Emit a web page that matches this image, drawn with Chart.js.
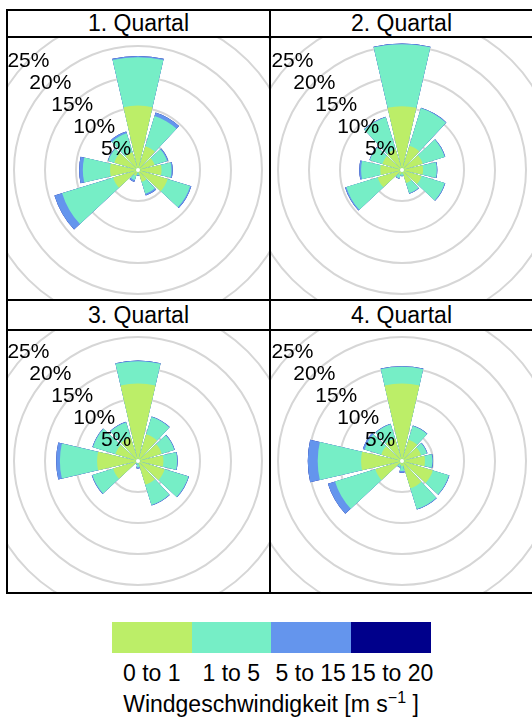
<!DOCTYPE html>
<html>
<head>
<meta charset="utf-8">
<script src="https://cdn.jsdelivr.net/npm/chart.js@4.4.1/dist/chart.umd.min.js"></script>
<style>
  body { margin: 0; background: #fff; font-family: "Liberation Sans", Arial, sans-serif; }
  #page { position: relative; width: 532px; height: 722px; overflow: hidden; }
  .clip { position: absolute; overflow: hidden; }
  .clip canvas { position: absolute; }
  .title { position: absolute; text-align: center; font-size: 23px; line-height: 26px; color: #000; }
  .line { position: absolute; background: #000; z-index: 5; }
  .swatch { position: absolute; top: 622px; height: 31px; }
  .lab { position: absolute; top: 661px; width: 80px; text-align: center; font-size: 23px; line-height: 24px; white-space: nowrap; }
  #legtitle { position: absolute; top: 692px; left: 71px; width: 400px; text-align: center; font-size: 23px; line-height: 24px; }
  #legtitle sup { font-size: 16px; line-height: 0; }
</style>
</head>
<body>
<div id="page"></div>
<script>
// Richtungen (Sektormitte, Grad) und Windgeschwindigkeitsklassen
const directions = [0, 30, 60, 90, 120, 150, 180, 210, 240, 270, 300, 330];
const speedLabels = ['0 to 1', '1 to 5', '5 to 15', '15 to 20'];
const speedColors = ['#BCEE68', '#76EEC6', '#6495ED', '#00008B'];
const quarterTitles = ['1. Quartal', '2. Quartal', '3. Quartal', '4. Quartal'];
const ringTicks = [5, 10, 15, 20, 25];
const ringTickLabels = ['5%', '10%', '15%', '20%', '25%'];

// Häufigkeiten in % je Richtung
const q1Speed0to1   = [10.4, 4.0, 2.8, 3.8, 5.0, 2.0, 0.5, 1.0, 4.2, 4.5, 4.0, 3.0];
const q1Speed1to5   = [7.8, 5.1, 2.1, 1.6, 3.8, 2.0, 0.3, 0.7, 8.6, 4.4, 1.0, 3.2];
const q1Speed5to15  = [0.2, 0.6, 0.2, 0.2, 0.2, 0.3, 0.1, 0.3, 1.3, 0.6, 0.1, 0.3];
const q1Speed15to20 = [0, 0, 0, 0, 0, 0, 0, 0, 0, 0, 0, 0];

const q2Speed0to1   = [10.3, 4.1, 3.5, 3.4, 3.3, 2.2, 0.6, 0.8, 4.1, 3.5, 3.3, 3.5];
const q2Speed1to5   = [10.0, 6.3, 3.7, 2.2, 3.9, 1.7, 0.3, 0.6, 5.3, 3.1, 2.1, 5.4];
const q2Speed5to15  = [0.1, 0.1, 0.1, 0.1, 0.1, 0.1, 0.1, 0.1, 0.2, 0.3, 0.1, 0.1];
const q2Speed15to20 = [0, 0, 0, 0, 0, 0, 0, 0, 0, 0, 0, 0];

const q3Speed0to1   = [12.5, 4.5, 4.0, 4.1, 4.5, 4.0, 0.4, 0.3, 4.2, 6.6, 3.8, 4.0];
const q3Speed1to5   = [3.6, 2.9, 2.1, 2.2, 4.0, 3.4, 0.6, 0.2, 3.5, 6.0, 3.8, 2.5];
const q3Speed5to15  = [0.1, 0.1, 0.1, 0.1, 0.1, 0.1, 0.2, 0.1, 0.1, 0.6, 0.1, 0.1];
const q3Speed15to20 = [0, 0, 0, 0, 0, 0, 0, 0, 0, 0, 0, 0];

const q4Speed0to1   = [12.5, 3.6, 3.2, 3.7, 5.2, 4.6, 0.8, 0.6, 4.5, 6.6, 3.5, 3.8];
const q4Speed1to5   = [2.7, 2.3, 1.0, 1.2, 2.7, 3.5, 0.8, 0.4, 6.8, 7.0, 2.8, 2.4];
const q4Speed5to15  = [0.1, 0.1, 0.1, 0.1, 0.1, 0.1, 0.3, 0.1, 1.2, 1.6, 0.3, 0.1];
const q4Speed15to20 = [0, 0, 0, 0, 0, 0, 0, 0, 0, 0, 0, 0];

const quarterBins = [
  [q1Speed0to1, q1Speed1to5, q1Speed5to15, q1Speed15to20],
  [q2Speed0to1, q2Speed1to5, q2Speed5to15, q2Speed15to20],
  [q3Speed0to1, q3Speed1to5, q3Speed5to15, q3Speed15to20],
  [q4Speed0to1, q4Speed1to5, q4Speed5to15, q4Speed15to20]
];

const sectorAngle = 26;
const gapAngle = 30 - sectorAngle;
const canvasSize = 434;
const radialMax = 35;

// Panel-Geometrie (innere Fläche + Rosenmitte)
const panels = [
  { left: 8,   top: 38,  cx: 138, cy: 170, titleTop: 10 },
  { left: 271, top: 38,  cx: 402, cy: 170, titleTop: 10 },
  { left: 8,   top: 331, cx: 138, cy: 461, titleTop: 302 },
  { left: 271, top: 331, cx: 402, cy: 461, titleTop: 302 }
];

const page = document.getElementById('page');

function addLine(x, y, w, h) {
  const d = document.createElement('div');
  d.className = 'line';
  d.style.left = x + 'px'; d.style.top = y + 'px';
  d.style.width = w + 'px'; d.style.height = h + 'px';
  page.appendChild(d);
}

//rahmen
[9, 36, 299, 329, 592].forEach(y => addLine(6, y, 530, 2));
[6, 269].forEach(x => addLine(x, 9, 2, 585));

// ringbeschriftung + weißer kreis in der mitte
const ringLabels = {
  id: 'ringLabels',
  afterDatasetsDraw(chart) {
    const s = chart.scales.r;
    const ctx = chart.ctx;
    ctx.save();
    ctx.fillStyle = '#fff';
    ctx.beginPath();
    ctx.arc(s.xCenter, s.yCenter, 2, 0, Math.PI * 2);
    ctx.fill();
    ctx.fillStyle = '#000';
    ctx.font = '21px "Liberation Sans", Arial, sans-serif';
    ctx.textAlign = 'center';
    ctx.textBaseline = 'middle';
    ringTicks.forEach((v, i) => {
      const d = s.getDistanceFromCenterForValue(v) / Math.SQRT2;
      ctx.fillText(ringTickLabels[i], s.xCenter - d, s.yCenter - d + 1);
    });
    ctx.restore();
  }
};

function makeRose(p, bins, title) {
  const clip = document.createElement('div');
  clip.className = 'clip';
  clip.style.left = p.left + 'px';
  clip.style.top = p.top + 'px';
  clip.style.width = '261px';
  clip.style.height = '261px';
  const canvas = document.createElement('canvas');
  canvas.width = canvasSize;
  canvas.height = canvasSize;
  canvas.style.left = (p.cx - p.left - canvasSize / 2) + 'px';
  canvas.style.top = (p.cy - p.top - canvasSize / 2) + 'px';
  clip.appendChild(canvas);
  page.appendChild(clip);

  const t = document.createElement('div');
  t.className = 'title';
  t.textContent = title;
  t.style.left = p.left + 'px';
  t.style.width = '261px';
  t.style.top = p.titleTop + 'px';
  page.appendChild(t);

  // kumulative summen, damit die klassen gestapelt erscheinen
  let running = directions.map(() => 0);
  const cumulative = bins.map(b => {
    running = running.map((v, i) => v + b[i]);
    return running.slice();
  });

  const datasets = cumulative.map((c, k) => ({
    label: speedLabels[k],
    data: c.flatMap(v => [v, 0]),
    backgroundColor: ctx => (ctx.dataIndex % 2 ? 'rgba(0,0,0,0)' : speedColors[k]),
    borderWidth: 0,
    angle: ctx => (ctx.dataIndex % 2 ? gapAngle : sectorAngle)
  }));

  new Chart(canvas, {
    type: 'polarArea',
    data: {
      labels: directions.flatMap(d => [d + '°', '']),
      datasets: datasets
    },
    options: {
      responsive: false,
      animation: false,
      layout: { padding: 0 },
      plugins: {
        legend: { display: false },
        tooltip: { enabled: false }
      },
      scales: {
        r: {
          min: 0,
          max: radialMax,
          startAngle: -sectorAngle / 2,
          ticks: { display: false, stepSize: 5 },
          grid: { color: '#d6d6d6', lineWidth: 2 },
          angleLines: { display: false },
          pointLabels: { display: false }
        }
      }
    },
    plugins: [ringLabels]
  });
}

panels.forEach((p, i) => makeRose(p, quarterBins[i], quarterTitles[i]));

// legende
speedColors.forEach((c, i) => {
  const sw = document.createElement('div');
  sw.className = 'swatch';
  sw.style.left = (112 + i * 79.5) + 'px';
  sw.style.width = '80px';
  sw.style.background = c;
  page.appendChild(sw);
  const lab = document.createElement('div');
  lab.className = 'lab';
  lab.style.left = (112 + i * 79.5 - 0.25) + 'px';
  lab.textContent = speedLabels[i];
  page.appendChild(lab);
});
const lt = document.createElement('div');
lt.id = 'legtitle';
lt.innerHTML = 'Windgeschwindigkeit [m s<sup>\u22121</sup> ]';
page.appendChild(lt);
</script>
</body>
</html>
